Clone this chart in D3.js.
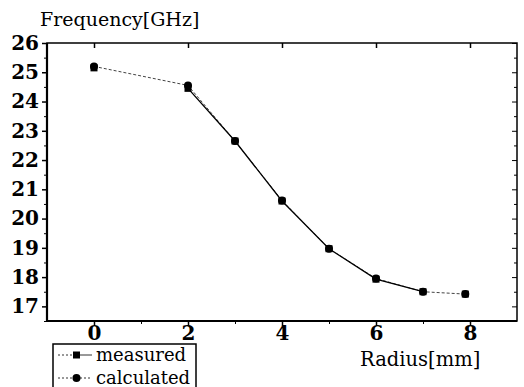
<!DOCTYPE html>
<html>
<head>
<meta charset="utf-8">
<script src="https://cdn.jsdelivr.net/npm/d3@7"></script>
<style>
  body { margin: 0; background: #fff; }
  svg { display: block; }
  svg text { font-family: "DejaVu Serif", serif; fill: #000; }
  .tick text { font-size: 20px; font-weight: bold; }
</style>
</head>
<body>
<svg id="chart" width="524" height="387"></svg>
<script>
// radius in mm
const radius = [0, 2, 3, 4, 5, 6, 7, 7.9]
const measured = [25.15, 24.45, 22.65, 20.6, 18.97, 17.93, 17.5, 17.42]
const calculated = [25.2, 24.55, 22.65, 20.62, 18.97, 17.95, 17.5, 17.42]
const xTicks = [0, 2, 4, 6, 8]
const yTicks = [17, 18, 19, 20, 21, 22, 23, 24, 25, 26]

const svg = d3.select('#chart')
const plotL = 47, plotR = 517, plotT = 43, plotB = 321

const xScale = d3.scaleLinear().domain([-1, 9]).range([plotL, plotR])
const yScale = d3.scaleLinear().domain([16.5, 26]).range([plotB, plotT])

// bottom axis
const xAxis = svg.append('g')
    .attr('transform', `translate(0,${plotB})`)
    .call(d3.axisBottom(xScale).tickValues(xTicks).tickSize(5).tickPadding(0).tickFormat(d3.format('d')))
xAxis.select('.domain').remove()
xAxis.selectAll('.tick line').attr('stroke-width', 1.5)

const xMinor = [1, 3, 5, 7]
svg.append('g')
    .attr('transform', `translate(0,${plotB})`)
    .call(d3.axisBottom(xScale).tickValues(xMinor).tickSize(3).tickFormat(''))
    .select('.domain').remove()

// top axis (inner ticks)
const xTop = svg.append('g')
    .attr('transform', `translate(0,${plotT})`)
    .call(d3.axisBottom(xScale).tickValues(xTicks).tickSize(5).tickFormat(''))
xTop.select('.domain').remove()
xTop.selectAll('.tick line').attr('stroke-width', 1.5)

// left axis
const yAxis = svg.append('g')
    .attr('transform', `translate(${plotL},0)`)
    .call(d3.axisLeft(yScale).tickValues(yTicks).tickSize(5).tickPadding(3))
yAxis.select('.domain').remove()
yAxis.selectAll('.tick line').attr('stroke-width', 1.5)

const yMinor = yTicks.map(v => v - 0.5)
svg.append('g')
    .attr('transform', `translate(${plotL},0)`)
    .call(d3.axisLeft(yScale).tickValues(yMinor).tickSize(3).tickFormat(''))
    .select('.domain').remove()

// right axis (inner ticks)
const yRight = svg.append('g')
    .attr('transform', `translate(${plotR},0)`)
    .call(d3.axisRight(yScale).tickValues(yTicks).tickSize(-5).tickFormat(''))
yRight.select('.domain').remove()
svg.append('g')
    .attr('transform', `translate(${plotR},0)`)
    .call(d3.axisRight(yScale).tickValues(yMinor).tickSize(-3).tickFormat(''))
    .select('.domain').remove()

// d3 axis sets its own font, drop it so the css one wins
svg.selectAll('g').attr('font-family', null).attr('font-size', null)

// frame
svg.append('rect')
    .attr('x', plotL).attr('y', plotT)
    .attr('width', plotR - plotL).attr('height', plotB - plotT)
    .attr('fill', 'none').attr('stroke', '#000').attr('stroke-width', 1.5)
svg.append('line').attr('x1', plotL).attr('x2', plotL).attr('y1', plotT).attr('y2', plotB + 1)
    .attr('stroke', '#000').attr('stroke-width', 2.2)
svg.append('line').attr('x1', plotL).attr('x2', plotR).attr('y1', plotB).attr('y2', plotB)
    .attr('stroke', '#000').attr('stroke-width', 2.2)

// series
const line = d3.line().x(d => xScale(d[0])).y(d => yScale(d[1]))
const measPts = radius.map((r, i) => [r, measured[i]])
const calcPts = radius.map((r, i) => [r, calculated[i]])

svg.append('path').datum(calcPts).attr('d', line)
    .attr('fill', 'none').attr('stroke', '#444').attr('stroke-width', 1).attr('stroke-dasharray', '3,2')
svg.append('path').datum(measPts.slice(1, 7)).attr('d', line)
    .attr('fill', 'none').attr('stroke', '#000').attr('stroke-width', 1.3)

svg.selectAll('.sq').data(measPts).enter().append('rect')
    .attr('x', d => xScale(d[0]) - 3.5).attr('y', d => yScale(d[1]) - 3.5)
    .attr('width', 7).attr('height', 7).attr('fill', '#000')
svg.selectAll('.ci').data(calcPts).enter().append('circle')
    .attr('cx', d => xScale(d[0])).attr('cy', d => yScale(d[1]))
    .attr('r', 4).attr('fill', '#000')

// titles
svg.append('text').attr('x', 40).attr('y', 26).style('font-size', '19px')
    .text('Frequency[GHz]')
svg.append('text').attr('x', 360).attr('y', 366).style('font-size', '19.5px')
    .text('Radius[mm]')

// legend
svg.append('rect').attr('x', 53).attr('y', 344).attr('width', 143).attr('height', 50)
    .attr('fill', '#fff').attr('stroke', '#000').attr('stroke-width', 1.5)
const legendItems = [
    { name: 'measured', y: 355, shape: 'square', dash: '2,2', after: null },
    { name: 'calculated', y: 378, shape: 'circle', dash: '2,2', after: '2,2' }
]
legendItems.forEach(item => {
    svg.append('line').attr('x1', 58).attr('x2', 72).attr('y1', item.y).attr('y2', item.y)
        .attr('stroke', '#333').attr('stroke-dasharray', item.dash)
    svg.append('line').attr('x1', 80).attr('x2', 92).attr('y1', item.y).attr('y2', item.y)
        .attr('stroke', '#333').attr('stroke-dasharray', item.after)
    if (item.shape === 'square') {
        svg.append('rect').attr('x', 73).attr('y', item.y - 3.5).attr('width', 7).attr('height', 7)
    } else {
        svg.append('circle').attr('cx', 76.5).attr('cy', item.y).attr('r', 4)
    }
    svg.append('text').attr('x', 96).attr('y', item.y + 6).style('font-size', '18px')
        .text(item.name)
})
</script>
</body>
</html>
